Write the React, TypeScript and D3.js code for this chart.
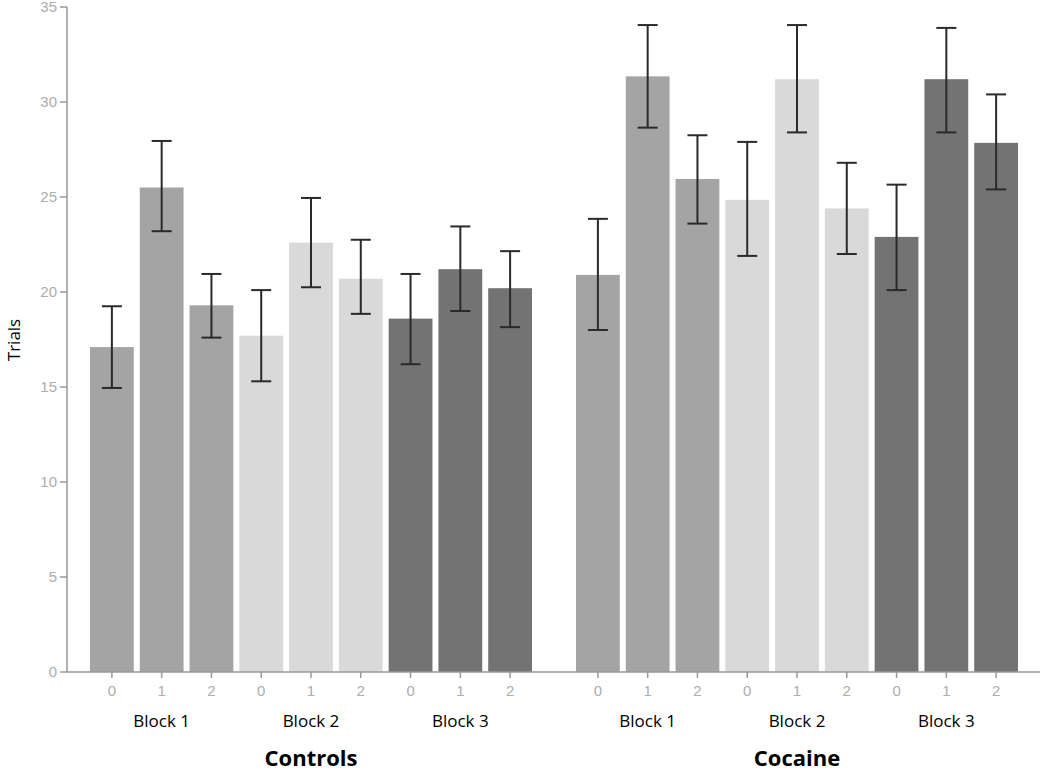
import React from "react";
import * as d3 from "d3";

const groups = ["Controls", "Cocaine"];
const blocks = ["Block 1", "Block 2", "Block 3"];
const levels = ["0", "1", "2"];
const blockColors = ["#a4a4a4", "#d9d9d9", "#737373"];

// means, per group, in order block1(0,1,2), block2(0,1,2), block3(0,1,2)
const controlsMean = [17.1, 25.5, 19.3, 17.7, 22.6, 20.7, 18.6, 21.2, 20.2];
const controlsHi = [19.25, 27.95, 20.95, 20.1, 24.95, 22.75, 20.95, 23.45, 22.15];
const controlsLo = [14.95, 23.2, 17.6, 15.3, 20.25, 18.85, 16.2, 19.0, 18.15];
const cocaineMean = [20.9, 31.35, 25.95, 24.85, 31.2, 24.4, 22.9, 31.2, 27.85];
const cocaineHi = [23.85, 34.05, 28.25, 27.9, 34.05, 26.8, 25.65, 33.9, 30.4];
const cocaineLo = [18.0, 28.65, 23.6, 21.9, 28.4, 22.0, 20.1, 28.4, 25.4];
const yTicks = [0, 5, 10, 15, 20, 25, 30, 35];

const means = [controlsMean, cocaineMean];
const his = [controlsHi, cocaineHi];
const los = [controlsLo, cocaineLo];

export default function App() {
  const W = 1050, H = 771;
  const axisX = 67;
  const y = d3.scaleLinear().domain([0, 35]).range([672, 7]);
  const outer = d3.scaleBand<string>().domain(groups).range([87, 1021]).paddingInner(0.0782).paddingOuter(0);
  const slots = d3.range(9).map(String);
  const inner = d3.scaleBand<string>().domain(slots).range([0, outer.bandwidth()]).paddingInner(0.12).paddingOuter(0.06);
  const bw = inner.bandwidth();
  const cap = 20;
  const labelFont = "'Open Sans', 'Noto Sans', sans-serif";
  const tickFont = "'Liberation Sans', Arial, sans-serif";

  return (
    <svg width={W} height={H} style={{ position: "absolute", left: 0, top: 0, background: "#fff" }}>
      {groups.map((g, gi) => (
        <g key={g}>
          {slots.map((s, i) => {
            const x0 = (outer(g) as number) + (inner(s) as number);
            const v = means[gi][i];
            return <rect key={s} x={x0} y={y(v)} width={bw} height={y(0) - y(v)} fill={blockColors[Math.floor(i / 3)]} />;
          })}
        </g>
      ))}
      <line x1={axisX} x2={axisX} y1={y(35)} y2={y(0)} stroke="#999" strokeWidth={1.5} />
      <line x1={axisX} x2={1040} y1={y(0)} y2={y(0)} stroke="#999" strokeWidth={1.5} />
      {yTicks.map((t) => (
        <g key={t}>
          <line x1={axisX - 7} x2={axisX} y1={y(t)} y2={y(t)} stroke="#999" strokeWidth={1.5} />
          <text x={axisX - 10} y={y(t)} dy="0.35em" textAnchor="end" fontFamily={tickFont} fontSize={15} fill="#adadad">
            {t}
          </text>
        </g>
      ))}
      {groups.map((g, gi) => (
        <g key={g}>
          {slots.map((s, i) => {
            const cx = (outer(g) as number) + (inner(s) as number) + bw / 2;
            return (
              <g key={s}>
                <line x1={cx} x2={cx} y1={y(0)} y2={y(0) + 6} stroke="#999" strokeWidth={1.5} />
                <text x={cx} y={691} dy="0.35em" textAnchor="middle" fontFamily={tickFont} fontSize={15} fill="#adadad">
                  {levels[i % 3]}
                </text>
              </g>
            );
          })}
          {blocks.map((b, bi) => {
            const cx = (outer(g) as number) + (inner(String(bi * 3 + 1)) as number) + bw / 2;
            return (
              <text key={b} x={cx} y={721} dy="0.35em" textAnchor="middle" fontFamily={labelFont} fontSize={17} fill="#000">
                {b}
              </text>
            );
          })}
          <text
            x={(outer(g) as number) + (inner("4") as number) + bw / 2}
            y={758}
            dy="0.35em"
            textAnchor="middle"
            fontFamily={labelFont}
            fontSize={22}
            fontWeight="bold"
            fill="#000"
          >
            {g}
          </text>
        </g>
      ))}
      {groups.map((g, gi) => (
        <g key={g}>
          {slots.map((s, i) => {
            const cx = (outer(g) as number) + (inner(s) as number) + bw / 2;
            const hi = y(his[gi][i]);
            const lo = y(los[gi][i]);
            return (
              <g key={s} stroke="#2a2a2a" strokeWidth={2}>
                <line x1={cx} x2={cx} y1={hi} y2={lo} />
                <line x1={cx - cap / 2} x2={cx + cap / 2} y1={hi} y2={hi} />
                <line x1={cx - cap / 2} x2={cx + cap / 2} y1={lo} y2={lo} />
              </g>
            );
          })}
        </g>
      ))}
      <text transform={`translate(14,340) rotate(-90)`} textAnchor="middle" dy="0.35em" fontFamily={labelFont} fontSize={17} fill="#000">
        Trials
      </text>
    </svg>
  );
}
